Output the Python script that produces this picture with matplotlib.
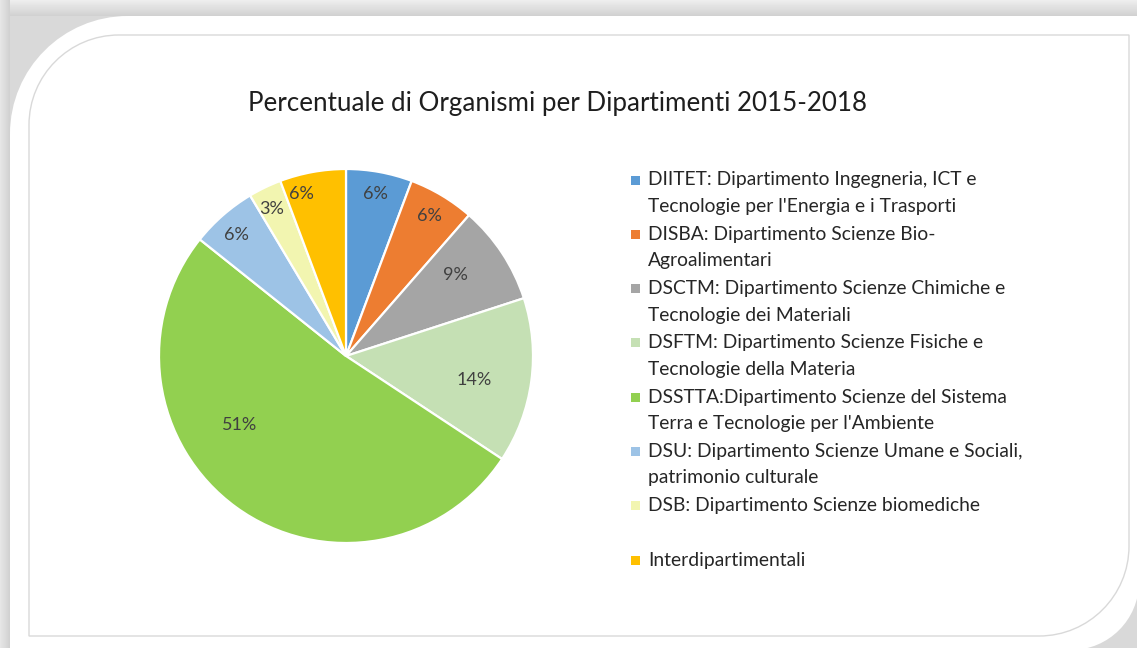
import numpy as np
import matplotlib
matplotlib.use("Agg")
import matplotlib.pyplot as plt
from matplotlib.path import Path
from matplotlib.patches import PathPatch, Rectangle

labels = [
    "DIITET: Dipartimento Ingegneria, ICT e\nTecnologie per l'Energia e i Trasporti",
    "DISBA: Dipartimento Scienze Bio-\nAgroalimentari",
    "DSCTM: Dipartimento Scienze Chimiche e\nTecnologie dei Materiali",
    "DSFTM: Dipartimento Scienze Fisiche e\nTecnologie della Materia",
    "DSSTTA:Dipartimento Scienze del Sistema\nTerra e Tecnologie per l'Ambiente",
    "DSU: Dipartimento Scienze Umane e Sociali,\npatrimonio culturale",
    "DSB: Dipartimento Scienze biomediche",
    "Interdipartimentali",
]
counts = [2, 2, 3, 5, 18, 2, 1, 2]
colors = ["#5B9BD5", "#ED7D31", "#A5A5A5", "#C5E0B4",
          "#92D050", "#9DC3E6", "#F2F5B0", "#FFC000"]
title = "Percentuale di Organismi per Dipartimenti 2015-2018"

# posizione etichette (frazione del raggio, spostamento in gradi)
label_r = [0.88, 0.87, 0.73, 0.70, 0.68, 0.87, 0.88, 0.90]
label_shift = [0, 0, 3, -3, -21, 1, 1, 5]

FONT = "Lato"
W, H = 1137, 648

fig = plt.figure(figsize=(W / 100, H / 100), dpi=100)
fig.patch.set_facecolor("#d9d9d9")

# sfondo: cornice con angoli arrotondati
bg = fig.add_axes([0, 0, 1, 1])
bg.set_xlim(0, W)
bg.set_ylim(H, 0)
bg.axis("off")

# ombra a gradiente in alto e a sinistra
grad = np.linspace(0.93, 0.82, 16)[:, None] * np.ones((1, 50))
bg.imshow(grad, extent=(0, W, 16, 0), cmap="gray", vmin=0, vmax=1, aspect="auto")
grad2 = np.ones((50, 1)) * np.linspace(0.9, 0.82, 10)[None, :]
bg.imshow(grad2, extent=(0, 10, H, 0), cmap="gray", vmin=0, vmax=1, aspect="auto")


def rounded(x0, y0, x1, y1, r_tl, r_br):
    k = 0.5523
    verts = [
        (x0 + r_tl, y0), (x1, y0), (x1, y1 - r_br),
        (x1, y1 - r_br + k * r_br), (x1 - r_br + k * r_br, y1), (x1 - r_br, y1),
        (x0, y1), (x0, y0 + r_tl),
        (x0, y0 + r_tl - k * r_tl), (x0 + r_tl - k * r_tl, y0), (x0 + r_tl, y0),
    ]
    codes = [Path.MOVETO, Path.LINETO, Path.LINETO,
             Path.CURVE4, Path.CURVE4, Path.CURVE4,
             Path.LINETO, Path.LINETO,
             Path.CURVE4, Path.CURVE4, Path.CURVE4]
    return Path(verts, codes)


bg.add_patch(PathPatch(rounded(10, 16, W + 2, H + 2, 118, 68),
                       facecolor="white", edgecolor="none"))
bg.add_patch(PathPatch(rounded(29, 35, 1129, 636, 90, 90),
                       facecolor="none", edgecolor="#d9d9d9", lw=1.0))

# torta
cx, cy, rad = 346, 356, 187
ax = fig.add_axes([(cx - rad) / W, (H - cy - rad) / H, 2 * rad / W, 2 * rad / H])
wedges, _ = ax.pie(counts, colors=colors, startangle=90, counterclock=False,
                   radius=1.0,
                   wedgeprops=dict(edgecolor="white", linewidth=1.6))
ax.set_xlim(-1.0, 1.0)
ax.set_ylim(-1.0, 1.0)
ax.set_aspect("equal")
ax.axis("off")

total = sum(counts)
for w, c, r, s in zip(wedges, counts, label_r, label_shift):
    ang = np.deg2rad((w.theta1 + w.theta2) / 2 + s)
    ax.text(r * np.cos(ang), r * np.sin(ang), "%d%%" % round(100 * c / total),
            ha="center", va="center", fontsize=13, color="#404040", family=FONT)

# titolo
fig.text(557 / W, 1 - 104 / H, title, ha="center", va="center",
         fontsize=18.7, color="#1e1e1e", family=FONT)

# legenda
lx, ly, step, line = 648, 180, 54.3, 26.5
for i, (lab, col) in enumerate(zip(labels, colors)):
    y = ly + i * step
    bg.add_patch(Rectangle((631, y - 4.5), 9, 9, facecolor=col, edgecolor="none"))
    for j, part in enumerate(lab.split("\n")):
        fig.text(lx / W, 1 - (y + j * line) / H, part, ha="left", va="center",
                 fontsize=13.9, color="#262626", family=FONT)

fig.savefig("out.png", dpi=100, facecolor=fig.get_facecolor())
